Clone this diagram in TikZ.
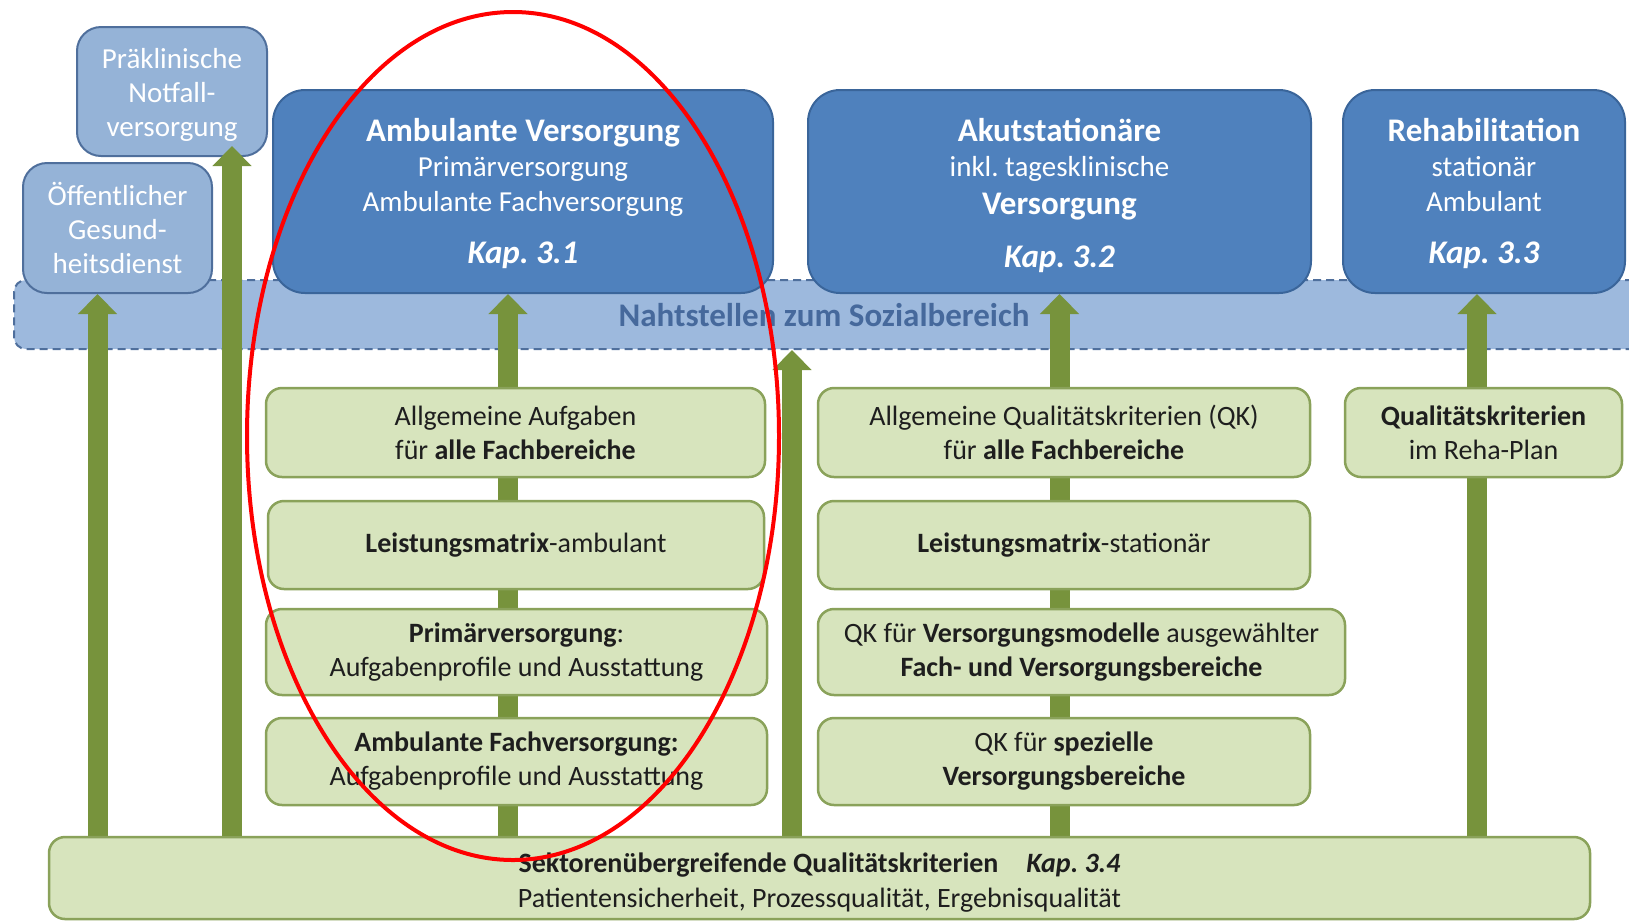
\documentclass[tikz,border=0pt]{standalone}
\usepackage{fontspec}
\setmainfont{Carlito}
\usetikzlibrary{arrows.meta}

\definecolor{bluebox}{HTML}{4F81BD}
\definecolor{blueline}{HTML}{3A659A}
\definecolor{lightblue}{HTML}{95B3D7}
\definecolor{lightline}{HTML}{4F6F9C}
\definecolor{bandfill}{HTML}{9DB9DD}
\definecolor{bandtext}{HTML}{46699C}
\definecolor{greenfill}{HTML}{D7E4BD}
\definecolor{greenline}{HTML}{8AA25A}
\definecolor{arrowgreen}{HTML}{77933C}
\definecolor{textdark}{HTML}{1E1E1E}

\pgfdeclarelayer{bandlayer}
\pgfdeclarelayer{arrowlayer}
\pgfsetlayers{bandlayer,arrowlayer,main}

\newcommand{\headfont}{\fontsize{33}{35}\selectfont\bfseries}
\newcommand{\kapfont}{\fontsize{33}{35}\selectfont\bfseries\itshape}

\tikzset{
  mainbox/.style={rounded corners=32pt, fill=bluebox, draw=blueline, line width=2pt, inner sep=0pt},
  maintext/.style={text=white, align=center, inner sep=0pt, font=\fontsize{29}{35}\selectfont},
  sidebox/.style={rounded corners=24pt, fill=lightblue, draw=lightline, line width=2pt, inner sep=0pt},
  sidetext/.style={text=white, align=center, inner sep=0pt, font=\fontsize{29}{34}\selectfont},
  greenbox/.style={rounded corners=16pt, fill=greenfill, draw=greenline, line width=2.5pt,
    text=textdark, align=center, inner sep=0pt, font=\fontsize{28}{34}\selectfont},
  bandbox/.style={rounded corners=12pt, fill=bandfill, draw=lightline, line width=2pt,
    dash pattern=on 8pt off 5pt, inner sep=0pt},
  garrow/.style={draw=arrowgreen, line width=20pt, -{Triangle[width=38pt,length=20pt]}},
}

\begin{document}
\frenchspacing
\begin{tikzpicture}[x=1pt,y=-1pt]
\useasboundingbox (0,0) rectangle (1629,922);

% band "Nahtstellen zum Sozialbereich"
\begin{pgfonlayer}{bandlayer}
  \node[bandbox, minimum width=1631pt, minimum height=69pt] (band) at (829.5,314.5) {};
  \node[text=bandtext, font=\fontsize{33}{34}\selectfont\bfseries] (bandlabel) at (824,315)
    {Nahtstellen zum Sozialbereich};
\end{pgfonlayer}

% sector boxes
\node[sidebox, minimum width=190pt, minimum height=129pt] (prae) at (172,91.5) {};
\node[sidetext] (praetext) at ([yshift=-3.5pt]prae.center) {Präklinische\\Notfall-\\versorgung};
\node[sidebox, minimum width=189pt, minimum height=130pt] (oeff) at (117.5,228) {};
\node[sidetext] (oefftext) at (oeff.center) {Öffentlicher\\Gesund-\\heitsdienst};

\node[mainbox, minimum width=500pt, minimum height=203pt] (amb) at (523,191.5) {};
\node[maintext] (ambtext) at ([yshift=-2pt]amb.center)
  {{\headfont Ambulante Versorgung}\\
   Primärversorgung\\
   Ambulante Fachversorgung\\[17pt]
   {\kapfont Kap. 3.1}};
\node[mainbox, minimum width=503pt, minimum height=203pt] (akut) at (1059.5,191.5) {};
\node[maintext] (akuttext) at ([yshift=-4pt]akut.center)
  {{\headfont Akutstationäre}\\
   inkl. tagesklinische\\[3pt]
   {\headfont Versorgung}\\[18pt]
   {\kapfont Kap. 3.2}};
\node[mainbox, minimum width=282pt, minimum height=203pt] (reha) at (1484,191.5) {};
\node[maintext] (rehatext) at ([yshift=-2pt]reha.center)
  {{\headfont Rehabilitation}\\
   stationär\\
   Ambulant\\[17pt]
   {\kapfont Kap. 3.3}};

% quality criteria boxes
\node[greenbox, minimum width=499pt, minimum height=89pt] (g1) at (515.5,432.5)
  {Allgemeine Aufgaben\\für \textbf{alle Fachbereiche}};
\node[greenbox, minimum width=496pt, minimum height=88pt] (g2) at (516,545)
  {\textbf{Leistungsmatrix}-ambulant};
\node[greenbox, minimum width=501pt, minimum height=86pt] (g3) at (516.5,652)
  {\textbf{Primärversorgung}:\\Aufgabenprofile und Ausstattung};
\node[greenbox, minimum width=501pt, minimum height=87pt] (g4) at (516.5,761.5)
  {\textbf{Ambulante Fachversorgung:}\\Aufgabenprofile und Ausstattung};

\node[greenbox, minimum width=492pt, minimum height=89pt] (r1) at (1064,432.5)
  {Allgemeine Qualitätskriterien (QK)\\für \textbf{alle Fachbereiche}};
\node[greenbox, minimum width=492pt, minimum height=88pt] (r2) at (1064,545)
  {\textbf{Leistungsmatrix}-stationär};
\node[greenbox, minimum width=527pt, minimum height=86pt] (r3) at (1081.5,652)
  {QK für \textbf{Versorgungsmodelle} ausgewählter\\\textbf{Fach- und Versorgungsbereiche}};
\node[greenbox, minimum width=492pt, minimum height=87pt] (r4) at (1064,761.5)
  {QK für \textbf{spezielle}\\\textbf{Versorgungsbereiche}};

\node[greenbox, minimum width=277pt, minimum height=89pt] (rp) at (1483.5,432.5)
  {\textbf{Qualitätskriterien}\\im Reha-Plan};

\node[greenbox, minimum width=1541pt, minimum height=82pt] (sek) at (819.5,878) {};
\node[greenbox, draw=none, fill=none, font=\fontsize{28}{35}\selectfont] (sektext)
  at ([yshift=-5pt]sek.center)
  {\textbf{Sektorenübergreifende Qualitätskriterien}\quad\textbf{\textit{Kap. 3.4}}\\
   Patientensicherheit, Prozessqualität, Ergebnisqualität};

% arrow columns
\coordinate (xa) at (97.5,0);
\coordinate (xb) at (232,0);
\coordinate (xc) at (508,0);
\coordinate (xd) at (792,0);
\coordinate (xe) at (1059.5,0);
\coordinate (xf) at (1477,0);

\begin{pgfonlayer}{arrowlayer}
  \draw[garrow] (sek.north -| xa) -- (oeff.south -| xa);
  \draw[garrow] (sek.north -| xc) -- (amb.south -| xc);
  \draw[garrow] (sek.north -| xd) -- (band.south -| xd);
  \draw[garrow] (sek.north -| xe) -- (akut.south -| xe);
  \draw[garrow] (sek.north -| xf) -- (reha.south -| xf);
\end{pgfonlayer}
\draw[garrow] (sek.north -| xb) -- ([yshift=11pt]prae.south -| xb);

% highlight
\draw[red, line width=4pt] (513,436) ellipse [x radius=266, y radius=424];
\end{tikzpicture}
\end{document}
